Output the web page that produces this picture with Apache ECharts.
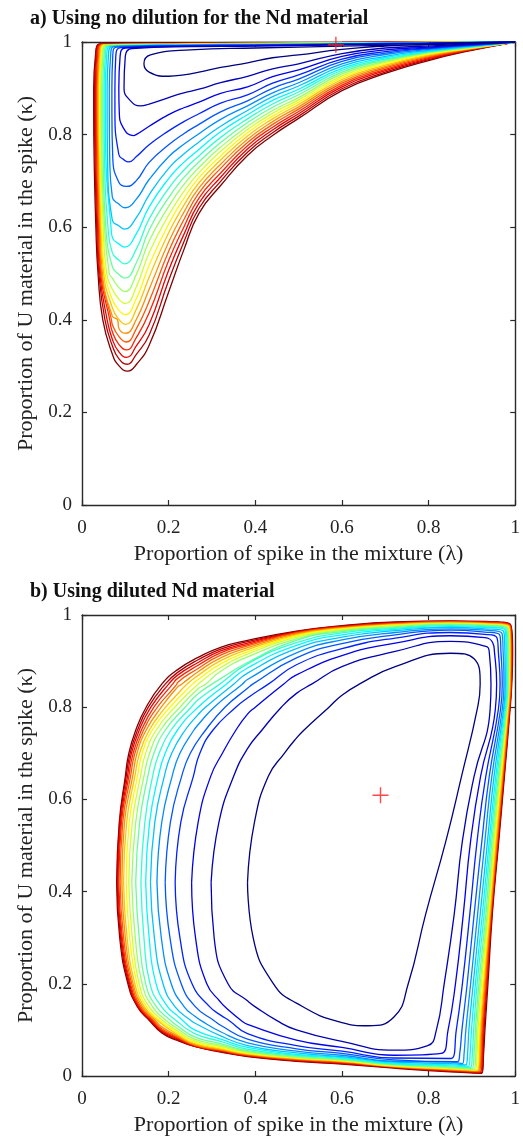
<!DOCTYPE html>
<html><head><meta charset="utf-8">
<script src="https://cdn.jsdelivr.net/npm/echarts/dist/echarts.min.js"></script>
<style>html,body{margin:0;padding:0;background:#fff}#c{width:523px;height:1141px}</style>
</head><body><div id="c"></div>
<script>
// ---------- tick labels / titles ----------
const xTicks = [0, 0.2, 0.4, 0.6, 0.8, 1];
const yTicks = [0, 0.2, 0.4, 0.6, 0.8, 1];
const titleA = 'a) Using no dilution for the Nd material';
const titleB = 'b) Using diluted Nd material';
const xName = 'Proportion of spike in the mixture (\u03bb)';
const yName = 'Proportion of U material in the spike (\u03ba)';
const crossA = [[0.586, 0.994]];
const crossB = [[0.689, 0.609]];

// ---------- panel a : contour readings (index 0 = innermost blue ... 19 = outer dark red) ----------
// top branch y at x = 0.8 / 0.6 / 0.4 / 0.25
const aT80 = [.995,.997,.997,.997,.998,.998,.998,.998,.998,.998,.999,.999,.999,.999,.999,.999,.999,1,1,1];
const aT60 = [.991,.994,.995,.995,.996,.996,.996,.997,.997,.997,.997,.998,.998,.998,.998,.998,.999,.999,.999,.999];
const aT40 = [.987,.991,.992,.993,.993,.994,.994,.995,.995,.995,.996,.996,.996,.997,.997,.997,.998,.998,.998,.999];
const aT25 = [.983,.990,.991,.992,.992,.993,.993,.994,.994,.994,.995,.995,.995,.996,.996,.996,.997,.997,.997,.998];
// top-left corner point
const aCx = [.158,.115,.100,.090,.080,.073,.068,.064,.060,.057,.054,.052,.050,.048,.047,.046,.045,.044,.043,.042];
const aCy = [.972,.986,.987,.988,.989,.990,.990,.991,.991,.991,.992,.992,.993,.993,.994,.994,.995,.995,.996,.996];
// left branch x at y = 0.97 / 0.9 / 0.85 / 0.75 / 0.6 / 0.5 / 0.4
const aL97 = [null,.100,.088,.078,.071,.066,.061,.057,.054,.051,.048,.046,.044,.042,.040,.038,.036,.034,.032,.031];
const aL90 = [null,.097,.085,.076,.069,.063,.058,.054,.051,.048,.045,.043,.041,.039,.037,.035,.033,.031,.029,.027];
const aL85 = [null,null,.086,.076,.069,.063,.058,.054,.051,.048,.045,.043,.041,.039,.037,.035,.033,.031,.029,.027];
const aL75 = [null,null,null,null,.071,.064,.059,.055,.052,.049,.046,.044,.042,.040,.038,.036,.034,.032,.030,.028];
const aL60 = [null,null,null,null,null,null,null,.067,.060,.055,.052,.049,.046,.044,.042,.040,.038,.036,.034,.032];
const aL50 = [null,null,null,null,null,null,null,null,null,null,.063,.057,.053,.050,.047,.045,.043,.041,.039,.037];
const aL40 = [null,null,null,null,null,null,null,null,null,null,null,null,null,null,.082,.068,.064,.058,.053,.048];
// left side of the trough: y at x = 0.07 / 0.085 / 0.095 / 0.11
const aLx070 = [null,null,null,null,null,.665,.615,.578,.545,.515,.490,.466,.444,.426,.408,.390,.374,.358,.344,.326];
const aLx085 = [null,null,null,.757,.697,.650,.603,.564,.529,.498,.470,.445,.421,.401,.382,.364,.347,.331,.316,.301];
const aLx095 = [null,null,.815,.747,null,null,null,null,null,null,null,null,null,null,null,null,null,null,null,null];
const aLx110 = [null,.875,null,null,null,null,null,null,null,null,null,null,null,null,null,null,null,null,null,null];
// trough minimum
const aMinX = [.143,.135,.118,.108,.102,.099,.098,.098,.098,.099,.099,.100,.100,.101,.101,.102,.103,.103,.104,.105];
const aMinY = [.953,.862,.798,.741,.688,.642,.596,.557,.521,.490,.461,.435,.411,.390,.371,.352,.335,.319,.304,.289];
// right branch y at x = 0.125 / 0.155 / 0.2 / 0.235 / 0.27 / 0.32 / 0.382 / 0.44 / 0.5 / 0.6 / 0.7 / 0.8 / 0.9
const aR125 = [null,null,.800,.752,.700,.660,.620,.585,.552,.522,.497,.470,.445,.422,.400,.380,.361,.343,.325,.303];
const aR155 = [.935,.866,.818,.778,.740,.703,.670,.644,.618,.594,.570,.545,.518,.492,.466,.440,.415,.390,.367,.345];
const aR200 = [.926,.880,.843,.808,.778,.752,.727,.705,.684,.664,.645,.626,.607,.588,.568,.548,.528,.507,.485,.460];
const aR235 = [.929,.890,.858,.828,.802,.779,.758,.740,.723,.707,.692,.677,.662,.647,.632,.616,.600,.584,.568,.551];
const aR270 = [.935,.898,.870,.845,.822,.802,.784,.768,.754,.741,.729,.718,.707,.696,.685,.674,.663,.652,.641,.630];
const aR320 = [.945,.912,.889,.868,.849,.833,.818,.806,.794,.783,.773,.764,.754,.745,.736,.727,.717,.708,.699,.690];
const aR382 = [.955,.926,.903,.886,.873,.862,.852,.843,.834,.826,.818,.811,.804,.797,.790,.783,.776,.769,.762,.755];
const aR440 = [.966,.942,.925,.911,.900,.890,.882,.874,.866,.859,.852,.846,.840,.834,.828,.822,.816,.810,.804,.798];
const aR500 = [.972,.953,.940,.929,.920,.912,.905,.898,.892,.886,.880,.875,.870,.865,.860,.855,.850,.845,.840,.835];
const aR600 = [.984,.975,.969,.963,.958,.953,.948,.943,.939,.935,.931,.927,.923,.919,.915,.911,.907,.903,.899,.895];
const aR700 = [.991,.987,.983,.979,.976,.973,.969,.966,.963,.961,.958,.956,.953,.950,.947,.944,.941,.938,.935,.932];
const aR800 = [.994,.991,.989,.987,.986,.984,.982,.980,.979,.978,.977,.976,.974,.972,.970,.968,.966,.964,.962,.960];
const aR900 = [.997,.996,.995,.994,.993,.992,.991,.990,.990,.989,.989,.988,.987,.986,.986,.985,.984,.984,.983,.982];

// ---------- panel b : contour readings ----------
// left side x at y = 0.42 / 0.55 / 0.65 / 0.70 / 0.75 / 0.80 / 0.85
const bL42 = [.382,.298,.253,.215,.192,.173,.158,.147,.136,.124,.115,.108,.102,.096,.092,.088,.085,.083,.081,.080];
const bL55 = [.398,.316,.268,.228,.204,.184,.168,.156,.145,.133,.124,.116,.109,.103,.098,.094,.091,.089,.087,.086];
const bL65 = [.430,.350,.297,.257,.230,.208,.190,.176,.163,.152,.143,.135,.128,.122,.117,.112,.108,.105,.102,.100];
const bL70 = [.467,null,.324,.272,.250,.226,.207,.192,.178,.166,.156,.147,.139,.133,.127,.122,.118,.114,.111,.108];
const bL75 = [.512,.415,.355,.302,.285,.258,.238,.220,.205,.192,.181,.171,.162,.155,.148,.142,.137,.132,.128,.124];
const bL80 = [.570,.460,.400,.355,.330,.305,.285,.268,.252,.238,.226,.214,.203,.193,.183,.174,.166,.159,.153,.148];
const bL85 = [.640,.530,.465,.430,.394,.370,.350,.333,.318,.300,.285,.268,.255,.242,.230,.219,.209,.200,.192,.184];
// top side y at x = 0.22 / 0.268 / 0.32 / 0.382 / 0.495 / 0.6 / 0.723 / 0.85 / 0.93
const bT22 = [null,null,null,null,null,null,null,null,null,null,null,null,null,.828,.843,.853,.862,.869,.875,.881];
const bT27 = [null,null,null,null,null,.762,.784,null,.816,.829,.840,.850,.860,.869,.877,.884,.891,.897,.903,.908];
const bT32 = [null,null,null,null,null,null,null,null,null,.862,.878,.886,.894,.901,.907,.913,.918,.922,.926,.930];
const bT38 = [null,.710,.785,.820,.841,.860,.874,.885,.894,.897,.909,.915,.920,.925,.929,.933,.936,.939,.942,.945];
const bT50 = [.733,.830,.870,.892,.907,.918,.927,.934,.940,.945,.948,.952,.955,.957,.959,.961,.962,.963,.964,.965];
const bT60 = [.826,.888,.912,.927,.938,.946,.952,.957,.961,.964,.966,.968,.970,.971,.972,.973,.974,.975,.976,.977];
const bT72 = [.888,.921,.939,.950,.957,.962,.966,.969,.971,.973,.975,.977,.978,.979,.980,.981,.982,.983,.984,.985];
const bT85 = [.917,.943,.955,.962,.967,.970,.973,.975,.977,.979,.980,.981,.982,.983,.984,.985,.985,.986,.986,.987];
const bT93 = [null,null,.951,.958,.963,.967,.970,.973,.975,.977,.978,.979,.980,.981,.982,.983,.984,.985,.985,.986];
// top-right corner
const bTRx = [.905,.932,.948,.958,.964,.969,.973,.976,.978,.980,.982,.983,.984,.985,.986,.987,.988,.988,.989,.989];
const bTRy = [.905,.932,.940,.950,.957,.961,.965,.968,.970,.972,.973,.974,.975,.976,.976,.977,.977,.978,.978,.979];
// right side x at y = 0.92 / 0.85 / 0.795 / 0.65 / 0.51 / 0.35 / 0.2 / 0.1 / 0.05
const bR92 = [null,.940,.952,.961,.967,.972,.976,.979,.981,.983,.985,.986,.987,.988,.989,.990,.991,.992,.993,.994];
const bR85 = [.919,.944,.957,.965,.970,.974,.977,.979,.981,.983,.984,.985,.986,.987,.988,.989,.990,.991,.991,.992];
const bR80 = [.912,.942,.954,.961,.966,.970,.973,.975,.977,.979,.980,.981,.982,.983,.984,.985,.986,.987,.987,.988];
const bR65 = [.876,.905,.920,.932,.940,.946,.951,.955,.958,.961,.963,.965,.967,.969,.970,.971,.972,.973,.974,.975];
const bR51 = [.840,.878,.897,.912,.923,.930,.936,.940,.943,.946,.949,.951,.953,.955,.957,.958,.959,.960,.961,.962];
const bR35 = [.793,.859,.880,.895,.905,.913,.919,.924,.928,.932,.935,.937,.939,.941,.942,.943,.944,.945,.946,.947];
const bR20 = [.753,.836,.862,.878,.889,.897,.903,.908,.912,.916,.919,.922,.925,.927,.929,.931,.933,.934,.935,.937];
const bR10 = [null,.818,.845,.864,.877,.886,.893,.899,.904,.908,.911,.914,.917,.919,.921,.923,.925,.926,.928,.930];
const bR05 = [null,null,null,null,.872,.882,.890,.896,.901,.905,.909,.912,.915,.917,.919,.921,.923,.924,.926,.927];
// bottom-right corner
const bBRx = [.660,.798,.829,.852,.867,.878,.886,.892,.897,.901,.905,.908,.911,.913,.915,.917,.919,.920,.922,.923];
const bBRy = [.109,.066,.049,.038,.031,.027,.024,.021,.019,.017,.015,.014,.013,.012,.011,.010,.009,.008,.007,.006];
// bottom side y at x = 0.85 / 0.72 / 0.6 / 0.495 / 0.382 / 0.32 / 0.26 / 0.22 / 0.185
const bB85 = [null,null,null,null,null,.030,.027,.024,.022,.020,.018,.017,.016,.015,.014,.013,.012,.011,.010,.009];
const bB72 = [.128,.056,.045,.039,.035,.032,.030,.028,.026,.025,.024,.023,.022,.021,.021,.020,.020,.019,.018,.017];
const bB60 = [.116,.075,.062,.054,.049,.045,.042,.040,.038,.036,.035,.034,.033,.032,.031,.030,.029,.028,.027,.026];
const bB50 = [.158,.100,.078,.066,.059,.054,.050,.047,.045,.043,.041,.040,.039,.038,.037,.036,.035,.034,.033,.032];
const bB38 = [null,.163,.112,.092,.080,.072,.066,.062,.058,.055,.053,.051,.049,.048,.047,.046,.045,.044,.043,.042];
const bB32 = [null,null,.160,.132,.110,.096,.087,.080,.075,.070,.067,.064,.061,.059,.057,.056,.055,.054,.053,.052];
const bB26 = [null,null,null,null,null,.130,.115,.100,.092,.085,.080,.076,.073,.070,.068,.067,.066,.065,.064,.064];
const bB22 = [null,null,null,null,null,null,null,.131,null,.109,.103,.098,.094,.090,.087,.085,.083,.081,.079,.077];
const bB18 = [null,null,null,null,null,null,null,null,null,null,null,null,null,null,.106,.102,.099,.097,.095,.093];
// lower-left side x at y = 0.12 / 0.15 / 0.2 / 0.3
const bL12 = [null,.450,.368,.340,.305,.275,.252,.233,.218,.205,.195,.187,.180,.175,.170,.166,.163,.160,.158,.156];
const bL15 = [null,.400,.330,.295,.262,.236,.215,.198,.184,.172,.163,.155,.149,.144,.140,.136,.133,.131,.129,.128];
const bL20 = [.442,.337,.288,.254,.229,.206,.187,.171,.157,.147,.139,.132,.127,.122,.118,.115,.112,.110,.108,.106];
const bL30 = [.395,.305,.262,.226,.203,.183,.167,.155,.143,.132,.123,.116,.110,.104,.100,.096,.093,.091,.089,.087];

// ---------- build contour paths from the readings ----------
const N = 20;
const ok = p => p[0] != null && p[1] != null;
function contourA(k) {
  const top = [[1,1],[0.8,aT80[k]],[0.6,aT60[k]],[0.4,aT40[k]],[0.25,aT25[k]],[aCx[k],aCy[k]]];
  const left = [[aL97[k],0.97],[aL90[k],0.9],[aL85[k],0.85],[aL75[k],0.75],[aL60[k],0.6],[aL50[k],0.5],[aL40[k],0.4],
    [0.07,aLx070[k]],[0.085,aLx085[k]],[0.095,aLx095[k]],[0.11,aLx110[k]]].filter(ok).sort((a,b)=>b[1]-a[1]);
  const mn = [[aMinX[k], aMinY[k]]];
  const right = [[0.125,aR125[k]],[0.155,aR155[k]],[0.2,aR200[k]],[0.235,aR235[k]],[0.27,aR270[k]],[0.32,aR320[k]],
    [0.382,aR382[k]],[0.44,aR440[k]],[0.5,aR500[k]],[0.6,aR600[k]],[0.7,aR700[k]],[0.8,aR800[k]],[0.9,aR900[k]],[1,1]]
    .filter(ok).filter(p=>p[0]>aMinX[k]).sort((a,b)=>a[0]-b[0]);
  return top.concat(left, mn, right);
}
function contourB(k) {
  const top = [[bL42[k],0.42],[bL55[k],0.55],[bL65[k],0.65],[bL70[k],0.70],[bL75[k],0.75],[bL80[k],0.80],[bL85[k],0.85],
    [0.22,bT22[k]],[0.268,bT27[k]],[0.32,bT32[k]],[0.382,bT38[k]],[0.495,bT50[k]],[0.6,bT60[k]],[0.723,bT72[k]],
    [0.85,bT85[k]],[0.93,bT93[k]],[bTRx[k],bTRy[k]],[bR92[k],0.92]].filter(ok).sort((a,b)=>a[0]-b[0]);
  const bot = [[bR85[k],0.85],[bR80[k],0.795],[bR65[k],0.65],[bR51[k],0.51],[bR35[k],0.35],[bR20[k],0.2],
    [bR10[k],0.1],[bR05[k],0.05],[bBRx[k],bBRy[k]],[0.85,bB85[k]],[0.72,bB72[k]],[0.6,bB60[k]],[0.495,bB50[k]],
    [0.382,bB38[k]],[0.32,bB32[k]],[0.26,bB26[k]],[0.22,bB22[k]],[0.185,bB18[k]],[bL12[k],0.12],[bL15[k],0.15],
    [bL20[k],0.2],[bL30[k],0.3]].filter(ok).sort((a,b)=>b[0]-a[0]);
  return top.concat(bot, [top[0]]);
}
function jet(t) {
  const c = v => Math.round(255 * Math.max(0, Math.min(1, v)));
  const r = c(Math.min(4*t-1.5, -4*t+4.5)), g = c(Math.min(4*t-0.5, -4*t+3.5)), b = c(Math.min(4*t+0.5, -4*t+2.5));
  return `rgb(${r},${g},${b})`;
}

const FONT = 'Liberation Serif';
const axisCol = '#2a2a2a';
function xAx(gi, pos, showLab) {
  return {gridIndex: gi, type: 'value', position: pos, min: 0, max: 1, interval: 0.2,
    axisLine: {show: true, onZero: false, lineStyle: {color: axisCol, width: 1.4}},
    axisTick: {show: true, inside: true, length: 5, lineStyle: {color: axisCol, width: 1.2}},
    splitLine: {show: false},
    axisLabel: {show: showLab, fontFamily: FONT, fontSize: 19, color: '#222', margin: 14,
      formatter: v => xTicks.includes(+v.toFixed(1)) ? String(+v.toFixed(1)) : ''},
    name: showLab ? xName : '', nameLocation: 'middle', nameGap: 38,
    nameTextStyle: {fontFamily: FONT, fontSize: 22, color: '#222'}};
}
function yAx(gi, pos, showLab) {
  return {gridIndex: gi, type: 'value', position: pos, min: 0, max: 1, interval: 0.2,
    axisLine: {show: true, onZero: false, lineStyle: {color: axisCol, width: 1.4}},
    axisTick: {show: true, inside: true, length: 5, lineStyle: {color: axisCol, width: 1.2}},
    splitLine: {show: false},
    axisLabel: {show: showLab, fontFamily: FONT, fontSize: 19, color: '#222', margin: 10,
      formatter: v => yTicks.includes(+v.toFixed(1)) ? String(+v.toFixed(1)) : ''},
    name: showLab ? yName : '', nameLocation: 'middle', nameGap: 45, nameRotate: 90,
    nameTextStyle: {fontFamily: FONT, fontSize: 22, color: '#222'}};
}

const series = [];
for (let k = N - 1; k >= 0; k--) {
  const col = jet(k / (N - 1));
  series.push({type: 'line', xAxisIndex: 0, yAxisIndex: 0, data: contourA(k), smooth: 0.5, showSymbol: false,
    silent: true, lineStyle: {color: col, width: 1.3}, z: 2 + (N - k) * 0.01});
  series.push({type: 'line', xAxisIndex: 2, yAxisIndex: 2, data: contourB(k), smooth: 0.5, showSymbol: false,
    silent: true, lineStyle: {color: col, width: 1.3}, z: 2 + (N - k) * 0.01});
}
const plus = 'path://M5,0 L5,10 M0,5 L10,5';
series.push({type: 'scatter', xAxisIndex: 0, yAxisIndex: 0, data: crossA, symbol: plus, symbolSize: 16,
  itemStyle: {color: 'rgba(0,0,0,0)', borderColor: '#ff1a1a', borderWidth: 1.4}, z: 5, silent: true});
series.push({type: 'scatter', xAxisIndex: 2, yAxisIndex: 2, data: crossB, symbol: plus, symbolSize: 16,
  itemStyle: {color: 'rgba(0,0,0,0)', borderColor: '#ff1a1a', borderWidth: 1.4}, z: 5, silent: true});

const chart = echarts.init(document.getElementById('c'), null, {renderer: 'canvas'});
chart.setOption({
  animation: false,
  backgroundColor: '#fff',
  title: [
    {text: titleA, left: 25, top: 4, textStyle: {fontFamily: FONT, fontWeight: 'bold', fontSize: 20, color: '#111'}},
    {text: titleB, left: 25, top: 577, textStyle: {fontFamily: FONT, fontWeight: 'bold', fontSize: 20, color: '#111'}}
  ],
  grid: [
    {left: 82, top: 42, width: 440, height: 463},
    {left: 82, top: 615, width: 440, height: 461}
  ],
  xAxis: [xAx(0, 'bottom', true), xAx(0, 'top', false), xAx(1, 'bottom', true), xAx(1, 'top', false)],
  yAxis: [yAx(0, 'left', true), yAx(0, 'right', false), yAx(1, 'left', true), yAx(1, 'right', false)],
  series: series
});
</script></body></html>
